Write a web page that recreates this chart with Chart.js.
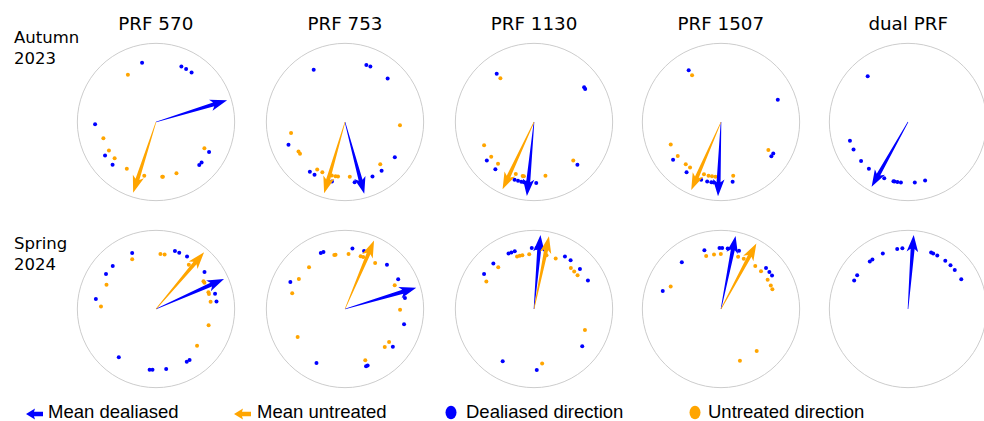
<!DOCTYPE html>
<html>
<head>
<meta charset="utf-8">
<script src="https://cdn.jsdelivr.net/npm/chart.js@4.4.1/dist/chart.umd.min.js"></script>
<style>
    html, body { margin: 0; padding: 0; background: #fff; }
    #figure { position: relative; width: 984px; height: 421px; overflow: hidden; }
    .panel { position: absolute; width: 172px; height: 172px; }
    .col-title {
        position: absolute; width: 160px; margin-left: -80px; text-align: center;
        font: 18.3px "DejaVu Sans", sans-serif; line-height: 22px; color: #000; white-space: nowrap;
    }
    .row-title {
        position: absolute; left: 14px;
        font: 16.5px "DejaVu Sans", sans-serif; line-height: 20.7px; color: #000;
    }
    .legend-item {
        position: absolute; top: 402px; height: 20px;
        font: 18.5px "Liberation Sans", Arial, sans-serif; line-height: 20px; color: #000; white-space: nowrap;
    }
    .legend-icon { position: absolute; }
</style>
</head>
<body>
<div id="figure"></div>

<script>
// Column and row labels
const prfLabels = ['PRF 570', 'PRF 753', 'PRF 1130', 'PRF 1507', 'dual PRF'];
const seasonLabels = [['Autumn', '2023'], ['Spring', '2024']];

// Wind directions (degrees, clockwise from north), one list per PRF setting
const autumnDealiased = [
    [346.8, 24.6, 29.6, 35.7, 267.9, 236.7, 225.4, 119.5, 131.6, 134.8],
    [329.1, 20.5, 24.6, 44.4, 248, 125.2, 143.1, 153.2, 170.9, 192.4, 210, 215.2],
    [322.3, 55.3, 57.1, 230.7, 219.3, 198.6, 195.2, 192, 189.5, 187, 177.9, 134.6],
    [328, 68.7, 231.8, 214.4, 199, 193.1, 189.1, 186.8, 169, 124.3, 121],
    [318.6, 252.2, 243.3, 230.3, 219.9, 202.9, 193.8, 192.8, 190, 186.7, 173.6, 163.7]
];
const autumnUntreated = [
    [329.3, 252.9, 238.7, 228.7, 212, 192.3, 172.8, 173.5, 158.2, 118.5],
    [93.3, 258.4, 237.6, 234.8, 210.3, 204.3, 193.9, 189.9, 187.3, 175, 140.2],
    [322.4, 245, 231, 220.8, 199.3, 191.9, 190.6, 168, 134.5],
    [328.3, 245.9, 231.8, 219.8, 214.2, 198, 193.1, 189.4, 185.8, 167.2, 120.7],
    []
];
const springDealiased = [
    [337, 314.8, 304.9, 279.4, 18.1, 22.4, 30.6, 52.7, 75.6, 83, 149.7, 146.6, 170.4, 186, 183.3, 217.6],
    [7, 18.2, 336.6, 339.3, 43.5, 60.7, 79.5, 104.4, 128.3, 159.8, 158.2, 207.9, 296.3],
    [357.9, 2.4, 335.3, 338.2, 341.6, 318.2, 305, 30.5, 36.9, 48.9, 62.2, 127.7, 177.4, 210.9],
    [344.2, 358.6, 1.1, 6.3, 17.2, 320, 287.1, 47.6, 52.5, 56.8],
    [349.8, 354.7, 335.6, 324.3, 321.2, 303.5, 298, 22.3, 24.4, 28.7, 37.7, 44.2, 50.1, 60.9]
];
const springUntreated = [
    [334.4, 4.6, 9, 36.6, 59.6, 61.6, 72.2, 74.1, 82.5, 107.2, 131.8, 296, 272.5],
    [348.8, 350.1, 3.7, 16.5, 19.3, 33.2, 64.5, 90.7, 126.8, 133.8, 158.4, 239.3, 286.5, 303.1, 319.2],
    [342.1, 345, 347.8, 355, 13.1, 23.2, 42, 46.9, 52.3, 319.5, 300.1, 112.3, 171.5],
    [344.4, 352.7, 359.8, 18.1, 24.4, 38.5, 46.6, 57.9, 64.7, 68.9, 294, 139.6, 159.9],
    []
];

// Mean directions (degrees); null where there is no untreated series
const autumnMeanDealiased = [73.0, 165.0, 185.5, 182.3, 209.3];
const autumnMeanUntreated = [197.9, 196.3, 205.0, 203.6, null];
const springMeanDealiased = [66.2, 73.4, 5.0, 11.3, 4.4];
const springMeanUntreated = [40.3, 23.0, 11.6, 28.4, null];

// Radial placement of each series inside the unit circle
const dealiasedRadius = 0.775;
const untreatedRadius = 0.70;
const meanLength = 0.945;

const BLUE = '#0000ff';
const ORANGE = '#ffa500';

// layout of the grid (centre of every circle in page pixels)
const colCentres = [155.8, 345, 534, 720.8, 908.2];
const rowCentres = [121.8, 308.5];
const PANEL = 172;
const RANGE = 1.0424;   // gives a circle radius of ~82.5px

function toXY(dirs, r) {
    return dirs.map(d => {
        const a = d * Math.PI / 180;
        return { x: r * Math.sin(a), y: r * Math.cos(a) };
    });
}

// Outer grey ring of every compass panel
const ringPlugin = {
    id: 'ring',
    beforeDatasetsDraw(chart) {
        const { ctx, scales: { x, y } } = chart;
        const cx = x.getPixelForValue(0);
        const cy = y.getPixelForValue(0);
        const r = x.getPixelForValue(1) - cx;
        ctx.save();
        ctx.beginPath();
        ctx.arc(cx, cy, r, 0, Math.PI * 2);
        ctx.strokeStyle = '#cccccc';
        ctx.lineWidth = 1;
        ctx.stroke();
        ctx.restore();
    }
};

// Tapered quiver-style arrows for the mean-direction datasets
const arrowPlugin = {
    id: 'meanArrows',
    afterDatasetsDraw(chart) {
        const { ctx } = chart;
        chart.data.datasets.forEach((ds, i) => {
            if (!ds.arrowColor) return;
            const pts = chart.getDatasetMeta(i).data;
            if (pts.length < 2) return;
            const x0 = pts[0].x, y0 = pts[0].y, x1 = pts[1].x, y1 = pts[1].y;
            const len = Math.hypot(x1 - x0, y1 - y0);
            const dx = (x1 - x0) / len, dy = (y1 - y0) / len;
            const nx = -dy, ny = dx;
            const headLen = 17, headHalf = 5.8, shaftHalf = 2.0, tailHalf = 0.3, notch = 3;
            const bx = x1 - dx * headLen, by = y1 - dy * headLen;
            ctx.save();
            ctx.beginPath();
            ctx.moveTo(x0 + nx * tailHalf, y0 + ny * tailHalf);
            ctx.lineTo(bx + nx * shaftHalf + dx * notch, by + ny * shaftHalf + dy * notch);
            ctx.lineTo(bx + nx * headHalf, by + ny * headHalf);
            ctx.lineTo(x1, y1);
            ctx.lineTo(bx - nx * headHalf, by - ny * headHalf);
            ctx.lineTo(bx - nx * shaftHalf + dx * notch, by - ny * shaftHalf + dy * notch);
            ctx.lineTo(x0 - nx * tailHalf, y0 - ny * tailHalf);
            ctx.closePath();
            ctx.fillStyle = ds.arrowColor;
            ctx.fill();
            ctx.restore();
        });
    }
};

function makePanel(row, col, dealiased, untreated, meanD, meanU) {
    const fig = document.getElementById('figure');
    const div = document.createElement('div');
    div.className = 'panel';
    div.style.left = (colCentres[col] - PANEL / 2) + 'px';
    div.style.top = (rowCentres[row] - PANEL / 2) + 'px';
    const canvas = document.createElement('canvas');
    canvas.width = PANEL;
    canvas.height = PANEL;
    div.appendChild(canvas);
    fig.appendChild(div);

    const datasets = [
        {
            label: 'Dealiased direction',
            data: toXY(dealiased, dealiasedRadius),
            backgroundColor: BLUE,
            borderWidth: 0,
            pointRadius: 2
        },
        {
            label: 'Untreated direction',
            data: toXY(untreated, untreatedRadius),
            backgroundColor: ORANGE,
            borderWidth: 0,
            pointRadius: 2
        },
        {
            label: 'Mean dealiased',
            data: [{ x: 0, y: 0 }].concat(toXY([meanD], meanLength)),
            pointRadius: 0,
            arrowColor: BLUE
        }
    ];
    if (meanU !== null) {
        datasets.push({
            label: 'Mean untreated',
            data: [{ x: 0, y: 0 }].concat(toXY([meanU], meanLength)),
            pointRadius: 0,
            arrowColor: ORANGE
        });
    }

    new Chart(canvas.getContext('2d'), {
        type: 'scatter',
        data: { datasets },
        options: {
            responsive: false,
            animation: false,
            layout: { padding: 0 },
            plugins: { legend: { display: false }, tooltip: { enabled: false } },
            scales: {
                x: { type: 'linear', min: -RANGE, max: RANGE, display: false },
                y: { type: 'linear', min: -RANGE, max: RANGE, display: false }
            }
        },
        plugins: [ringPlugin, arrowPlugin]
    });
}

function addText(cls, html, left, top) {
    const el = document.createElement('div');
    el.className = cls;
    el.innerHTML = html;
    if (left !== null) el.style.left = left + 'px';
    el.style.top = top + 'px';
    document.getElementById('figure').appendChild(el);
    return el;
}

// column headings
prfLabels.forEach((label, i) => addText('col-title', label, colCentres[i], 12.6));
// row headings
addText('row-title', seasonLabels[0].join('<br>'), null, 28.2);
addText('row-title', seasonLabels[1].join('<br>'), null, 234);

for (let c = 0; c < 5; c++) {
    makePanel(0, c, autumnDealiased[c], autumnUntreated[c], autumnMeanDealiased[c], autumnMeanUntreated[c]);
    makePanel(1, c, springDealiased[c], springUntreated[c], springMeanDealiased[c], springMeanUntreated[c]);
}

// figure legend along the bottom
function arrowIcon(color) {
    return '<svg width="18" height="12" viewBox="0 0 18 12"><polygon points="0,6 9,0.5 8,3.8 17,3.8 17,8.2 8,8.2 9,11.5" fill="' + color + '"/></svg>';
}
function dotIcon(color) {
    return '<svg width="12" height="15" viewBox="0 0 12 15"><ellipse cx="6" cy="7.5" rx="5.5" ry="6.8" fill="' + color + '"/></svg>';
}
const legendItems = [
    { icon: arrowIcon(BLUE), iconX: 26, iconY: 406, text: 'Mean dealiased', textX: 48 },
    { icon: arrowIcon(ORANGE), iconX: 234, iconY: 406, text: 'Mean untreated', textX: 257 },
    { icon: dotIcon(BLUE), iconX: 445, iconY: 405, text: 'Dealiased direction', textX: 466 },
    { icon: dotIcon(ORANGE), iconX: 689, iconY: 405, text: 'Untreated direction', textX: 708 }
];
legendItems.forEach(item => {
    const icon = document.createElement('div');
    icon.className = 'legend-icon';
    icon.style.left = item.iconX + 'px';
    icon.style.top = item.iconY + 'px';
    icon.innerHTML = item.icon;
    document.getElementById('figure').appendChild(icon);
    addText('legend-item', item.text, item.textX, 402);
});
</script>
</body>
</html>
